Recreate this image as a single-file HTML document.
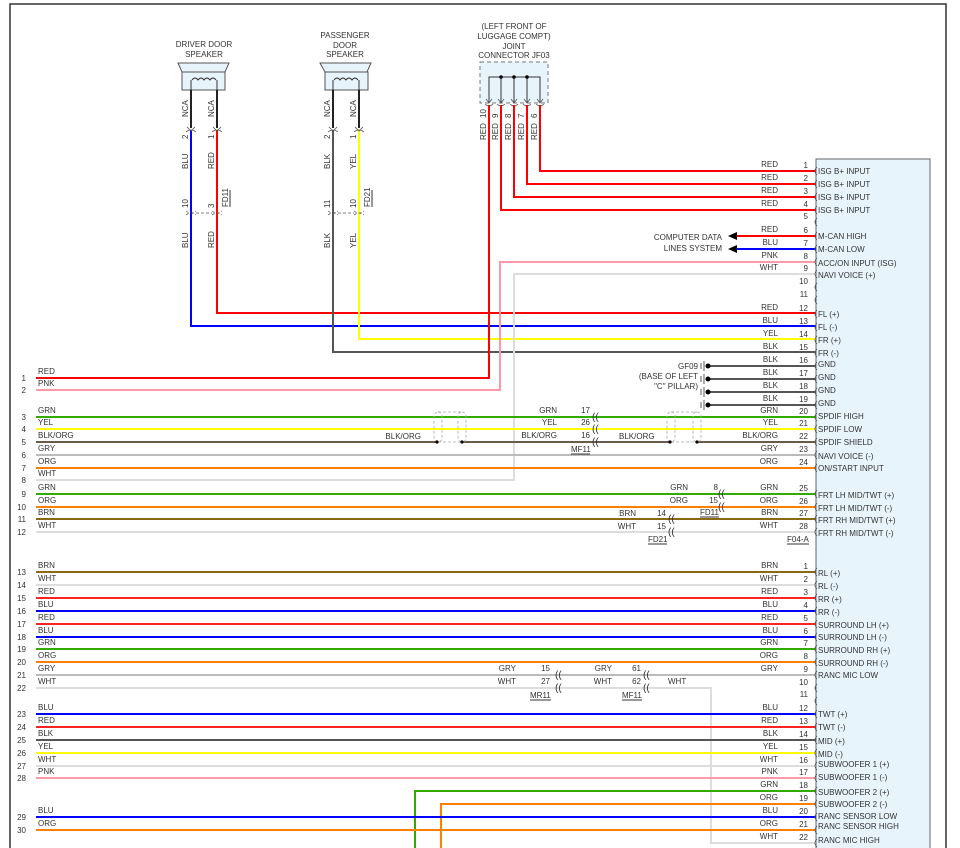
<!DOCTYPE html>
<html><head><meta charset="utf-8"><style>
html,body{margin:0;padding:0;background:#fff}
svg{display:block}
text{font-family:"Liberation Sans",sans-serif;font-size:8px;fill:#333}
.r{text-anchor:end}.m{text-anchor:middle}
.w{fill:none;stroke-width:2}
.c{fill:none;stroke:#555;stroke-width:0.8}
</style></head><body>
<svg width="960" height="848" viewBox="0 0 960 848" xmlns="http://www.w3.org/2000/svg">
<rect x="10" y="4" width="936" height="850" fill="none" stroke="#333" stroke-width="1.5"/>
<!-- panel -->
<rect x="816" y="159" width="114" height="700" fill="#e8f4fc" stroke="#666" stroke-width="1"/>

<!-- titles -->
<text class="m" x="204" y="47">DRIVER DOOR</text><text class="m" x="204" y="57">SPEAKER</text>
<text class="m" x="345" y="38">PASSENGER</text><text class="m" x="345" y="48">DOOR</text><text class="m" x="345" y="57">SPEAKER</text>
<text class="m" x="514" y="29">(LEFT FRONT OF</text><text class="m" x="514" y="39">LUGGAGE COMPT)</text><text class="m" x="514" y="49">JOINT</text><text class="m" x="514" y="58">CONNECTOR JF03</text>

<!-- speakers -->
<path d="M178 63 L229 63 L225 72 L182 72 Z" fill="#e8f4fc" stroke="#555"/>
<rect x="182" y="72" width="43" height="18" fill="#e8f4fc" stroke="#555"/>
<path d="M191 90 V80 M217 90 V80 M192 80 q3 -4 6 0 q3 -4 6 0 q3 -4 6 0 q3 -4 6 0" fill="none" stroke="#333"/>
<path d="M320 63 L371 63 L367 72 L325 72 Z" fill="#e8f4fc" stroke="#555"/>
<rect x="325" y="72" width="43" height="18" fill="#e8f4fc" stroke="#555"/>
<path d="M333 90 V80 M359 90 V80 M334 80 q3 -4 6 0 q3 -4 6 0 q3 -4 6 0 q3 -4 6 0" fill="none" stroke="#333"/>
<path class="w" stroke="#222" d="M191 90 V128 M217 90 V128 M333 90 V128 M359 90 V128"/>

<!-- JF03 -->
<rect x="480" y="62" width="68" height="41" fill="#e8f4fc" stroke="#777" stroke-dasharray="4,3"/>
<path d="M489 103 V77 H540 V103 M501 77 V103 M514 77 V103 M527 77 V103" fill="none" stroke="#333"/>
<circle cx="501" cy="77" r="1.8" fill="#000"/><circle cx="514" cy="77" r="1.8" fill="#000"/><circle cx="527" cy="77" r="1.8" fill="#000"/>
<path class="c" d="M486 99 l3 4 l3 -4 M498 99 l3 4 l3 -4 M511 99 l3 4 l3 -4 M524 99 l3 4 l3 -4 M537 99 l3 4 l3 -4 M485 104 q4 4 8 0 M497 104 q4 4 8 0 M510 104 q4 4 8 0 M523 104 q4 4 8 0 M536 104 q4 4 8 0"/>
<g>
<text transform="translate(486,118) rotate(-90)">10</text><text transform="translate(498,118) rotate(-90)">9</text><text transform="translate(511,118) rotate(-90)">8</text><text transform="translate(524,118) rotate(-90)">7</text><text transform="translate(537,118) rotate(-90)">6</text>
<text transform="translate(486,140) rotate(-90)">RED</text><text transform="translate(498,140) rotate(-90)">RED</text><text transform="translate(511,140) rotate(-90)">RED</text><text transform="translate(524,140) rotate(-90)">RED</text><text transform="translate(537,140) rotate(-90)">RED</text>
</g>

<!-- speaker wires -->
<path class="w" stroke="#0000ff" d="M191 130 V326 H816"/>
<path class="w" stroke="#ff0000" d="M217 130 V313 H816"/>
<path class="w" stroke="#555" d="M333 130 V352 H816"/>
<path class="w" stroke="#ffff00" d="M359 130 V339 H816"/>
<path class="c" d="M187 127 l4 4 l4 -4 M186 132 q5 -4 10 0 M213 127 l4 4 l4 -4 M212 132 q5 -4 10 0 M329 127 l4 4 l4 -4 M328 132 q5 -4 10 0 M355 127 l4 4 l4 -4 M354 132 q5 -4 10 0"/>
<path class="c" d="M186 211 q5 4 10 0 M186 215 q5 -4 10 0 M212 211 q5 4 10 0 M212 215 q5 -4 10 0 M328 211 q5 4 10 0 M328 215 q5 -4 10 0 M354 211 q5 4 10 0 M354 215 q5 -4 10 0 M196 213 H212 M338 213 H354" stroke-dasharray="3,2"/>
<text transform="translate(188,117) rotate(-90)">NCA</text><text transform="translate(214,117) rotate(-90)">NCA</text>
<text transform="translate(330,117) rotate(-90)">NCA</text><text transform="translate(356,117) rotate(-90)">NCA</text>
<text transform="translate(188,139) rotate(-90)">2</text><text transform="translate(214,139) rotate(-90)">1</text>
<text transform="translate(330,139) rotate(-90)">2</text><text transform="translate(356,139) rotate(-90)">1</text>
<text transform="translate(188,169) rotate(-90)">BLU</text><text transform="translate(214,169) rotate(-90)">RED</text>
<text transform="translate(330,169) rotate(-90)">BLK</text><text transform="translate(356,169) rotate(-90)">YEL</text>
<text transform="translate(188,208) rotate(-90)">10</text><text transform="translate(214,208) rotate(-90)">3</text>
<text transform="translate(330,208) rotate(-90)">11</text><text transform="translate(356,208) rotate(-90)">10</text>
<text transform="translate(228,207) rotate(-90)">FD11</text><path d="M230 190 V207" stroke="#333"/>
<text transform="translate(370,207) rotate(-90)">FD21</text><path d="M372 190 V207" stroke="#333"/>
<text transform="translate(188,248) rotate(-90)">BLU</text><text transform="translate(214,248) rotate(-90)">RED</text>
<text transform="translate(330,248) rotate(-90)">BLK</text><text transform="translate(356,248) rotate(-90)">YEL</text>

<!-- top connector wires -->
<path class="w" stroke="#ff0000" d="M540 105 V171 H816 M527 105 V184 H816 M514 105 V197 H816 M501 105 V210 H816 M489 105 V378 H36"/>
<path class="w" stroke="#ff0000" d="M736 236 H816"/><path d="M728 236 l9 -4 v8 z" fill="#000"/>
<path class="w" stroke="#0000ff" d="M736 249 H816"/><path d="M728 249 l9 -4 v8 z" fill="#000"/>
<text class="r" x="722" y="240">COMPUTER DATA</text><text class="r" x="722" y="251">LINES SYSTEM</text>
<path class="w" stroke="#ff99aa" d="M36 390 H500 V262 H816"/>
<path class="w" stroke="#dddddd" d="M36 480 H514 V274 H816"/>
<!-- grounds -->
<path class="w" stroke="#555" d="M710 366 H816 M710 379 H816 M710 392 H816 M710 405 H816"/>
<g fill="#000"><circle cx="708" cy="366" r="2.5"/><circle cx="708" cy="379" r="2.5"/><circle cx="708" cy="392" r="2.5"/><circle cx="708" cy="405" r="2.5"/></g>
<path d="M704 361 v10 M704 374 v10 M704 387 v10 M704 400 v10 M701 363 v6 M701 376 v6 M701 389 v6 M701 402 v6" stroke="#333" stroke-width="0.8"/>
<text class="r" x="698" y="369">GF09</text><text class="r" x="698" y="379">(BASE OF LEFT</text><text class="r" x="698" y="389">"C" PILLAR)</text>

<!-- left wires 3-12 -->
<path class="w" stroke="#33aa00" d="M36 417 H816"/>
<path class="w" stroke="#ffff00" d="M36 429 H816"/>
<path class="w" stroke="#6b5a4a" d="M36 442 H437 M462 442 H670 M697 442 H816"/>
<path class="w" stroke="#bbbbbb" d="M36 455 H816"/>
<path class="w" stroke="#ff8000" d="M36 468 H816"/>
<path class="w" stroke="#33aa00" d="M36 494 H816"/>
<path class="w" stroke="#ff8000" d="M36 507 H816"/>
<path class="w" stroke="#8b6914" d="M36 519 H816"/>
<path class="w" stroke="#dddddd" d="M36 532 H816"/>
<g fill="none" stroke="#aaa" stroke-width="0.8" stroke-dasharray="3,2">
<rect x="434" y="412" width="8" height="30" rx="4"/><rect x="458" y="412" width="8" height="30" rx="4"/><path d="M438 442 H462 M438 412 H462"/>
<rect x="667" y="412" width="8" height="30" rx="4"/><rect x="693" y="412" width="8" height="30" rx="4"/><path d="M671 442 H697 M671 412 H697"/>
</g>
<g fill="#000"><circle cx="437" cy="442" r="1.6"/><circle cx="462" cy="442" r="1.6"/><circle cx="670" cy="442" r="1.6"/><circle cx="697" cy="442" r="1.6"/></g>
<text class="r" x="421" y="439">BLK/ORG</text><text x="619" y="439">BLK/ORG</text>
<g font-size="10"><text x="592" y="420" style="font-size:10px">((</text><text x="592" y="432" style="font-size:10px">((</text><text x="592" y="445" style="font-size:10px">((</text>
<text x="718" y="497" style="font-size:10px">((</text><text x="718" y="510" style="font-size:10px">((</text>
<text x="668" y="522" style="font-size:10px">((</text><text x="668" y="535" style="font-size:10px">((</text></g>
<text class="r" x="557" y="413">GRN</text><text class="r" x="590" y="413">17</text>
<text class="r" x="557" y="425">YEL</text><text class="r" x="590" y="425">26</text>
<text class="r" x="557" y="438">BLK/ORG</text><text class="r" x="590" y="438">16</text>
<text x="571" y="452">MF11</text><path d="M571 454 H590" stroke="#333"/>
<text class="r" x="688" y="490">GRN</text><text class="r" x="718" y="490">8</text>
<text class="r" x="688" y="503">ORG</text><text class="r" x="718" y="503">15</text>
<text x="700" y="515">FD11</text><path d="M700 517 H719" stroke="#333"/>
<text class="r" x="636" y="516">BRN</text><text class="r" x="666" y="516">14</text>
<text class="r" x="636" y="529">WHT</text><text class="r" x="666" y="529">15</text>
<text x="648" y="542">FD21</text><path d="M648 544 H667" stroke="#333"/>
<text x="787" y="542">F04-A</text><path d="M787 544 H809" stroke="#333"/>

<!-- left labels top -->
<g>
<text x="26" y="381" class="r">1</text><text x="38" y="374">RED</text>
<text x="26" y="393" class="r">2</text><text x="38" y="386">PNK</text>
<text x="26" y="420" class="r">3</text><text x="38" y="413">GRN</text>
<text x="26" y="432" class="r">4</text><text x="38" y="425">YEL</text>
<text x="26" y="445" class="r">5</text><text x="38" y="438">BLK/ORG</text>
<text x="26" y="458" class="r">6</text><text x="38" y="451">GRY</text>
<text x="26" y="471" class="r">7</text><text x="38" y="464">ORG</text>
<text x="26" y="483" class="r">8</text><text x="38" y="476">WHT</text>
<text x="26" y="497" class="r">9</text><text x="38" y="490">GRN</text>
<text x="26" y="510" class="r">10</text><text x="38" y="503">ORG</text>
<text x="26" y="522" class="r">11</text><text x="38" y="515">BRN</text>
<text x="26" y="535" class="r">12</text><text x="38" y="528">WHT</text>
</g>

<!-- right side top connector labels -->
<g>
<text class="r" x="778" y="167">RED</text><text class="r" x="808" y="168">1</text><text x="818" y="174">ISG B+ INPUT</text>
<text class="r" x="778" y="180">RED</text><text class="r" x="808" y="181">2</text><text x="818" y="187">ISG B+ INPUT</text>
<text class="r" x="778" y="193">RED</text><text class="r" x="808" y="194">3</text><text x="818" y="200">ISG B+ INPUT</text>
<text class="r" x="778" y="206">RED</text><text class="r" x="808" y="207">4</text><text x="818" y="213">ISG B+ INPUT</text>
<text class="r" x="808" y="219">5</text>
<text class="r" x="778" y="232">RED</text><text class="r" x="808" y="233">6</text><text x="818" y="239">M-CAN HIGH</text>
<text class="r" x="778" y="245">BLU</text><text class="r" x="808" y="246">7</text><text x="818" y="252">M-CAN LOW</text>
<text class="r" x="778" y="258">PNK</text><text class="r" x="808" y="259">8</text><text x="818" y="266">ACC/ON INPUT (ISG)</text>
<text class="r" x="778" y="270">WHT</text><text class="r" x="808" y="271">9</text><text x="818" y="278">NAVI VOICE (+)</text>
<text class="r" x="808" y="284">10</text><text class="r" x="808" y="297">11</text>
<text class="r" x="778" y="310">RED</text><text class="r" x="808" y="311">12</text><text x="818" y="317">FL (+)</text>
<text class="r" x="778" y="323">BLU</text><text class="r" x="808" y="324">13</text><text x="818" y="330">FL (-)</text>
<text class="r" x="778" y="336">YEL</text><text class="r" x="808" y="337">14</text><text x="818" y="343">FR (+)</text>
<text class="r" x="778" y="349">BLK</text><text class="r" x="808" y="350">15</text><text x="818" y="356">FR (-)</text>
<text class="r" x="778" y="362">BLK</text><text class="r" x="808" y="363">16</text><text x="818" y="367">GND</text>
<text class="r" x="778" y="375">BLK</text><text class="r" x="808" y="376">17</text><text x="818" y="380">GND</text>
<text class="r" x="778" y="388">BLK</text><text class="r" x="808" y="389">18</text><text x="818" y="393">GND</text>
<text class="r" x="778" y="401">BLK</text><text class="r" x="808" y="402">19</text><text x="818" y="406">GND</text>
<text class="r" x="778" y="413">GRN</text><text class="r" x="808" y="414">20</text><text x="818" y="419">SPDIF HIGH</text>
<text class="r" x="778" y="425">YEL</text><text class="r" x="808" y="426">21</text><text x="818" y="432">SPDIF LOW</text>
<text class="r" x="778" y="438">BLK/ORG</text><text class="r" x="808" y="439">22</text><text x="818" y="445">SPDIF SHIELD</text>
<text class="r" x="778" y="451">GRY</text><text class="r" x="808" y="452">23</text><text x="818" y="459">NAVI VOICE (-)</text>
<text class="r" x="778" y="464">ORG</text><text class="r" x="808" y="465">24</text><text x="818" y="471">ON/START INPUT</text>
<text class="r" x="778" y="490">GRN</text><text class="r" x="808" y="491">25</text><text x="818" y="498">FRT LH MID/TWT (+)</text>
<text class="r" x="778" y="503">ORG</text><text class="r" x="808" y="504">26</text><text x="818" y="511">FRT LH MID/TWT (-)</text>
<text class="r" x="778" y="515">BRN</text><text class="r" x="808" y="516">27</text><text x="818" y="523">FRT RH MID/TWT (+)</text>
<text class="r" x="778" y="528">WHT</text><text class="r" x="808" y="529">28</text><text x="818" y="536">FRT RH MID/TWT (-)</text>
</g>
<path class="c" d="M817 167 q-4 4 0 8 M817 180 q-4 4 0 8 M817 193 q-4 4 0 8 M817 206 q-4 4 0 8 M817 218 q-4 4 0 8 M817 232 q-4 4 0 8 M817 245 q-4 4 0 8 M817 258 q-4 4 0 8 M817 270 q-4 4 0 8 M817 283 q-4 4 0 8 M817 296 q-4 4 0 8 M817 310 q-4 4 0 8 M817 323 q-4 4 0 8 M817 336 q-4 4 0 8 M817 349 q-4 4 0 8 M817 362 q-4 4 0 8 M817 375 q-4 4 0 8 M817 388 q-4 4 0 8 M817 401 q-4 4 0 8 M817 413 q-4 4 0 8 M817 425 q-4 4 0 8 M817 438 q-4 4 0 8 M817 451 q-4 4 0 8 M817 464 q-4 4 0 8 M817 490 q-4 4 0 8 M817 503 q-4 4 0 8 M817 515 q-4 4 0 8 M817 528 q-4 4 0 8"/>

<!-- bottom section wires -->
<path class="w" stroke="#8b6914" d="M36 572 H816"/>
<path class="w" stroke="#dddddd" d="M36 585 H816"/>
<path class="w" stroke="#ff2222" d="M36 598 H816"/>
<path class="w" stroke="#0000ff" d="M36 611 H816"/>
<path class="w" stroke="#ff2222" d="M36 624 H816"/>
<path class="w" stroke="#0000ff" d="M36 637 H816"/>
<path class="w" stroke="#33aa00" d="M36 649 H816"/>
<path class="w" stroke="#ff8000" d="M36 662 H816"/>
<path class="w" stroke="#bbbbbb" d="M36 675 H816"/>
<path class="w" stroke="#dddddd" d="M36 688 H711 V843 H816"/>
<path class="w" stroke="#0000ff" d="M36 714 H816"/>
<path class="w" stroke="#ff2222" d="M36 727 H816"/>
<path class="w" stroke="#555" d="M36 740 H816"/>
<path class="w" stroke="#ffff00" d="M36 753 H816"/>
<path class="w" stroke="#dddddd" d="M36 766 H816"/>
<path class="w" stroke="#ff99aa" d="M36 778 H816"/>
<path class="w" stroke="#33aa00" d="M415 850 V791 H816"/>
<path class="w" stroke="#ff8000" d="M441 850 V804 H816"/>
<path class="w" stroke="#0000ff" d="M36 817 H816"/>
<path class="w" stroke="#ff8000" d="M36 830 H816"/>
<text x="555" y="678" style="font-size:10px">((</text><text x="555" y="691" style="font-size:10px">((</text>
<text x="643" y="678" style="font-size:10px">((</text><text x="643" y="691" style="font-size:10px">((</text>
<text class="r" x="516" y="671">GRY</text><text class="r" x="550" y="671">15</text>
<text class="r" x="516" y="684">WHT</text><text class="r" x="550" y="684">27</text>
<text x="530" y="698">MR11</text><path d="M530 700 H551" stroke="#333"/>
<text class="r" x="612" y="671">GRY</text><text class="r" x="641" y="671">61</text>
<text class="r" x="612" y="684">WHT</text><text class="r" x="641" y="684">62</text>
<text x="668" y="684">WHT</text>
<text x="622" y="698">MF11</text><path d="M622 700 H642" stroke="#333"/>

<g>
<text x="26" y="575" class="r">13</text><text x="38" y="568">BRN</text>
<text x="26" y="588" class="r">14</text><text x="38" y="581">WHT</text>
<text x="26" y="601" class="r">15</text><text x="38" y="594">RED</text>
<text x="26" y="614" class="r">16</text><text x="38" y="607">BLU</text>
<text x="26" y="627" class="r">17</text><text x="38" y="620">RED</text>
<text x="26" y="640" class="r">18</text><text x="38" y="633">BLU</text>
<text x="26" y="652" class="r">19</text><text x="38" y="645">GRN</text>
<text x="26" y="665" class="r">20</text><text x="38" y="658">ORG</text>
<text x="26" y="678" class="r">21</text><text x="38" y="671">GRY</text>
<text x="26" y="691" class="r">22</text><text x="38" y="684">WHT</text>
<text x="26" y="717" class="r">23</text><text x="38" y="710">BLU</text>
<text x="26" y="730" class="r">24</text><text x="38" y="723">RED</text>
<text x="26" y="743" class="r">25</text><text x="38" y="736">BLK</text>
<text x="26" y="756" class="r">26</text><text x="38" y="749">YEL</text>
<text x="26" y="769" class="r">27</text><text x="38" y="762">WHT</text>
<text x="26" y="781" class="r">28</text><text x="38" y="774">PNK</text>
<text x="26" y="820" class="r">29</text><text x="38" y="813">BLU</text>
<text x="26" y="833" class="r">30</text><text x="38" y="826">ORG</text>
</g>
<g>
<text class="r" x="778" y="568">BRN</text><text class="r" x="808" y="569">1</text><text x="818" y="576">RL (+)</text>
<text class="r" x="778" y="581">WHT</text><text class="r" x="808" y="582">2</text><text x="818" y="589">RL (-)</text>
<text class="r" x="778" y="594">RED</text><text class="r" x="808" y="595">3</text><text x="818" y="602">RR (+)</text>
<text class="r" x="778" y="607">BLU</text><text class="r" x="808" y="608">4</text><text x="818" y="615">RR (-)</text>
<text class="r" x="778" y="620">RED</text><text class="r" x="808" y="621">5</text><text x="818" y="628">SURROUND LH (+)</text>
<text class="r" x="778" y="633">BLU</text><text class="r" x="808" y="634">6</text><text x="818" y="640">SURROUND LH (-)</text>
<text class="r" x="778" y="645">GRN</text><text class="r" x="808" y="646">7</text><text x="818" y="653">SURROUND RH (+)</text>
<text class="r" x="778" y="658">ORG</text><text class="r" x="808" y="659">8</text><text x="818" y="666">SURROUND RH (-)</text>
<text class="r" x="778" y="671">GRY</text><text class="r" x="808" y="672">9</text><text x="818" y="678">RANC MIC LOW</text>
<text class="r" x="808" y="685">10</text><text class="r" x="808" y="697">11</text>
<text class="r" x="778" y="710">BLU</text><text class="r" x="808" y="711">12</text><text x="818" y="717">TWT (+)</text>
<text class="r" x="778" y="723">RED</text><text class="r" x="808" y="724">13</text><text x="818" y="730">TWT (-)</text>
<text class="r" x="778" y="736">BLK</text><text class="r" x="808" y="737">14</text><text x="818" y="744">MID (+)</text>
<text class="r" x="778" y="749">YEL</text><text class="r" x="808" y="750">15</text><text x="818" y="757">MID (-)</text>
<text class="r" x="778" y="762">WHT</text><text class="r" x="808" y="763">16</text><text x="818" y="767">SUBWOOFER 1 (+)</text>
<text class="r" x="778" y="774">PNK</text><text class="r" x="808" y="775">17</text><text x="818" y="780">SUBWOOFER 1 (-)</text>
<text class="r" x="778" y="787">GRN</text><text class="r" x="808" y="788">18</text><text x="818" y="795">SUBWOOFER 2 (+)</text>
<text class="r" x="778" y="800">ORG</text><text class="r" x="808" y="801">19</text><text x="818" y="807">SUBWOOFER 2 (-)</text>
<text class="r" x="778" y="813">BLU</text><text class="r" x="808" y="814">20</text><text x="818" y="819">RANC SENSOR LOW</text>
<text class="r" x="778" y="826">ORG</text><text class="r" x="808" y="827">21</text><text x="818" y="829">RANC SENSOR HIGH</text>
<text class="r" x="778" y="839">WHT</text><text class="r" x="808" y="840">22</text><text x="818" y="843">RANC MIC HIGH</text>
</g>
<path class="c" d="M817 568 q-4 4 0 8 M817 581 q-4 4 0 8 M817 594 q-4 4 0 8 M817 607 q-4 4 0 8 M817 620 q-4 4 0 8 M817 633 q-4 4 0 8 M817 645 q-4 4 0 8 M817 658 q-4 4 0 8 M817 671 q-4 4 0 8 M817 684 q-4 4 0 8 M817 697 q-4 4 0 8 M817 710 q-4 4 0 8 M817 723 q-4 4 0 8 M817 736 q-4 4 0 8 M817 749 q-4 4 0 8 M817 762 q-4 4 0 8 M817 774 q-4 4 0 8 M817 787 q-4 4 0 8 M817 800 q-4 4 0 8 M817 813 q-4 4 0 8 M817 826 q-4 4 0 8 M817 839 q-4 4 0 8"/>
</svg>
</body></html>
